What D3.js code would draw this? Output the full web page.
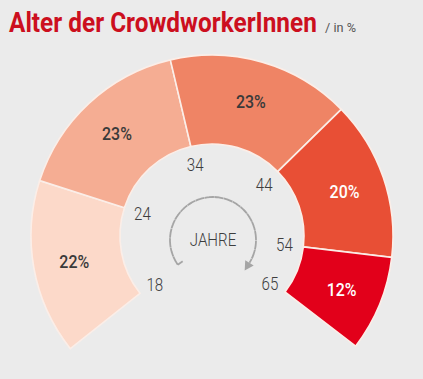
<!DOCTYPE html>
<html><head><meta charset="utf-8">
<script src="https://cdn.jsdelivr.net/npm/d3@7"></script>
<style>
html,body{margin:0;padding:0;background:#ebebeb;}
svg{display:block;}
</style></head>
<body><svg id="c" width="423" height="379"></svg>
<script>
const categories = ["18-24", "24-34", "34-44", "44-54", "54-65"];
const shares = [22, 23, 23, 20, 12];
const ageBounds = ["18", "24", "34", "44", "54", "65"];
const colors = ["#fcd9c9", "#f5ad93", "#ef8465", "#e84f35", "#e2001a"];
const labelColors = ["#3a3a3a", "#3a3a3a", "#3a3a3a", "#ffffff", "#ffffff"];
const title = "Alter der CrowdworkerInnen";
const subtitle = "/ in %";
const centerLabel = "JAHRE";

const font = "Roboto, 'Liberation Sans', sans-serif";
const SX = 0.84;
const svg = d3.select("#c");
svg.append("rect").attr("width",423).attr("height",379).attr("fill","#ebebeb");

function ctext(parent, x, y, str, opts) {
  const t = parent.append("text").attr("font-family",font)
    .attr("font-size",opts.size).attr("font-weight",opts.weight||400)
    .attr("fill",opts.fill).attr("text-anchor",opts.anchor||"start")
    .attr("dy",opts.dy||null).text(str);
  let s = SX;
  if (opts.width) s = opts.width / t.node().getComputedTextLength();
  t.attr("transform",`translate(${x},${y}) scale(${s},1)`);
  return t;
}

ctext(svg, 9, 32, title, {size:28, weight:700, fill:"#cc0f1e", width:308});
ctext(svg, 325, 32, subtitle, {size:13, weight:400, fill:"#555", width:31});

const cx = 212, cy = 236, rIn = 92, rOut = 181;
const toRad = d => d*Math.PI/180;
const pie = d3.pie().sort(null).value(d=>d).startAngle(toRad(-128.5)).endAngle(toRad(127.5));
const arcs = pie(shares);
const arc = d3.arc().innerRadius(rIn).outerRadius(rOut);
const g = svg.append("g").attr("transform",`translate(${cx},${cy})`);
g.selectAll("path.seg").data(arcs).join("path").attr("class","seg")
  .attr("d",arc).attr("fill",(d,i)=>colors[i]).attr("stroke","#fbeee8").attr("stroke-width",1.6);

const lblArc = d3.arc().innerRadius(140).outerRadius(140);
arcs.forEach((d,i)=>{
  const [x,y] = lblArc.centroid(d);
  ctext(g, x, y, d.data+"%", {size:19, weight:500, fill:labelColors[i], anchor:"middle", dy:"0.36em"});
});

const bAngles = arcs.map(d=>d.startAngle).concat([arcs[arcs.length-1].endAngle]);
const rLbl = 73;
ageBounds.forEach((d,i)=>{
  const x = rLbl*Math.sin(bAngles[i]);
  const y = -rLbl*Math.cos(bAngles[i]) + (i===0||i===5?3:0);
  ctext(g, x, y, d, {size:18, weight:300, fill:"#3d3d3d", anchor:"middle", dy:"0.36em"});
});

const cg = svg.append("g").attr("transform",`translate(${cx+1},${cy+4})`);
ctext(cg, 0, 0, centerLabel, {size:18, weight:300, fill:"#3d3d3d", anchor:"middle", dy:"0.36em"});
const rA = 43, a0 = toRad(-125), a1 = toRad(122);
const dash = d3.arc().innerRadius(rA).outerRadius(rA).startAngle(a0).endAngle(a1);
cg.append("path").attr("d",dash()).attr("fill","none").attr("stroke","#a5a5a5")
  .attr("stroke-width",1.8).attr("stroke-dasharray","5,4.5");
const sx = rA*Math.sin(a0), sy = -rA*Math.cos(a0);
cg.append("line").attr("x1",sx).attr("y1",sy).attr("x2",sx+6*Math.cos(toRad(-35))).attr("y2",sy+6*Math.sin(toRad(-35)))
  .attr("stroke","#a5a5a5").attr("stroke-width",1.8);
const ex = rA*Math.sin(a1), ey = -rA*Math.cos(a1);
const tx = Math.cos(a1), ty = Math.sin(a1);
const px = -ty, py = tx;
const tip = [ex+tx*9, ey+ty*9];
cg.append("path").attr("d",`M${tip[0]},${tip[1]} L${ex+px*5},${ey+py*5} L${ex-px*5},${ey-py*5} Z`).attr("fill","#a5a5a5");
</script></body></html>
